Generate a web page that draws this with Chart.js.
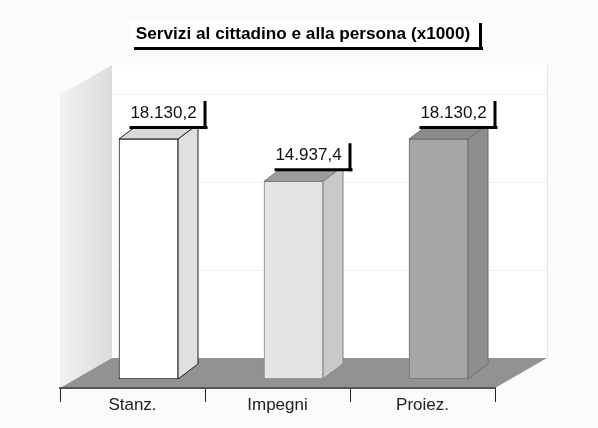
<!DOCTYPE html>
<html lang="it">
<head>
  <meta charset="UTF-8" />
  <title>Servizi al cittadino e alla persona</title>
  <script src="https://cdn.jsdelivr.net/npm/chart.js"></script>
  <style>
    html, body { margin: 0; padding: 0; background: #fbfbfb; }
    canvas { display: block; }
  </style>
</head>
<body>
  <canvas id="chart" width="598" height="428"></canvas>

  <script>
    const titleText = "Servizi al cittadino e alla persona (x1000)";
    const categories = ["Stanz.", "Impegni", "Proiez."];
    const values = [18130.2, 14937.4, 18130.2];
    const valueLabels = ["18.130,2", "14.937,4", "18.130,2"];
    const wallGrid = [6650, 13300, 19950];

    const frontColors = ["#ffffff", "#e4e4e4", "#a6a6a6"];
    const sideColors = ["#e0e0e0", "#c9c9c9", "#8e8e8e"];
    const topColors = ["#d9d9d9", "#9c9c9c", "#8a8a8a"];
    const edgeColors = ["#222222", "#808080", "#6e6e6e"];

    // bars sit forward of the axis line, on the floor
    const barShift = { x: 16, y: -9 };
    const barDepth = { x: 20, y: -15 };
    const wallDepth = { x: 52, y: -30 };

    function shadowBox(ctx, x, y, w, h) {
      ctx.fillStyle = "#ffffff";
      ctx.fillRect(x, y, w, h);
      ctx.fillStyle = "#000000";
      ctx.fillRect(x + 4, y + h - 1, w, 3);
      ctx.fillRect(x + w, y + 1, 3, h + 1);
    }

    const scene3d = {
      id: "scene3d",
      beforeDraw(chart) {
        const { ctx, chartArea: a, scales } = chart;
        const zero = scales.y.getPixelForValue(0);
        const wallTop = scales.y.getPixelForValue(22130) + wallDepth.y;
        const backX = a.left + wallDepth.x;
        const backBottom = zero + wallDepth.y;
        ctx.save();
        ctx.fillStyle = "#ffffff";
        ctx.fillRect(backX, wallTop, a.right + wallDepth.x - backX, backBottom - wallTop);
        // left wall
        const g = ctx.createLinearGradient(a.left, 0, backX, 0);
        g.addColorStop(0, "#f1f1f1");
        g.addColorStop(1, "#dcdcdc");
        ctx.fillStyle = g;
        ctx.beginPath();
        ctx.moveTo(a.left, zero);
        ctx.lineTo(backX, backBottom);
        ctx.lineTo(backX, wallTop);
        ctx.lineTo(a.left, wallTop - wallDepth.y);
        ctx.closePath();
        ctx.fill();
        // right edge and faint grid on the back wall
        ctx.strokeStyle = "#e6e6e6";
        ctx.beginPath();
        ctx.moveTo(a.right + wallDepth.x + 0.5, wallTop);
        ctx.lineTo(a.right + wallDepth.x + 0.5, backBottom);
        ctx.stroke();
        ctx.strokeStyle = "#f3f3f3";
        wallGrid.forEach(v => {
          const py = Math.round(scales.y.getPixelForValue(v) + wallDepth.y) + 0.5;
          ctx.beginPath();
          ctx.moveTo(backX, py);
          ctx.lineTo(a.right + wallDepth.x, py);
          ctx.stroke();
        });
        // floor
        ctx.fillStyle = "#929292";
        ctx.beginPath();
        ctx.moveTo(a.left, zero);
        ctx.lineTo(a.right, zero);
        ctx.lineTo(a.right + wallDepth.x, backBottom);
        ctx.lineTo(backX, backBottom);
        ctx.closePath();
        ctx.fill();
        // title box and title, the built-in title can't sit off the plot centre
        shadowBox(ctx, 130, 22, 349, 26);
        ctx.font = "bold 17.2px 'Liberation Sans'";
        ctx.textAlign = "center";
        ctx.textBaseline = "middle";
        ctx.fillStyle = "#000000";
        ctx.fillText(titleText, 303, 34);
        ctx.restore();
      },
      beforeDatasetsDraw(chart) {
        const { ctx } = chart;
        ctx.save();
        ctx.translate(barShift.x, barShift.y);
        chart.getDatasetMeta(0).data.forEach((bar, i) => {
          const r = bar.x + bar.width / 2;
          const l = bar.x - bar.width / 2;
          ctx.strokeStyle = edgeColors[i];
          ctx.lineWidth = 1;
          ctx.fillStyle = sideColors[i];
          ctx.beginPath();
          ctx.moveTo(r, bar.base);
          ctx.lineTo(r + barDepth.x, bar.base + barDepth.y);
          ctx.lineTo(r + barDepth.x, bar.y + barDepth.y);
          ctx.lineTo(r, bar.y);
          ctx.closePath();
          ctx.fill();
          ctx.stroke();
          ctx.fillStyle = topColors[i];
          ctx.beginPath();
          ctx.moveTo(l, bar.y);
          ctx.lineTo(l + barDepth.x, bar.y + barDepth.y);
          ctx.lineTo(r + barDepth.x, bar.y + barDepth.y);
          ctx.lineTo(r, bar.y);
          ctx.closePath();
          ctx.fill();
          ctx.stroke();
        });
      },
      afterDatasetsDraw(chart) {
        const { ctx } = chart;
        ctx.restore();
        ctx.save();
        ctx.font = "17px 'Liberation Sans'";
        ctx.textAlign = "center";
        ctx.textBaseline = "middle";
        chart.getDatasetMeta(0).data.forEach((bar, i) => {
          const cx = bar.x + barShift.x + 15;
          const cy = bar.y + barShift.y - 26;
          shadowBox(ctx, cx - 38, cy - 13, 78, 27);
          ctx.fillStyle = "#111111";
          ctx.fillText(valueLabels[i], cx, cy);
        });
        ctx.restore();
      }
    };

    new Chart(document.getElementById("chart"), {
      type: "bar",
      data: {
        labels: categories,
        datasets: [{
          data: values,
          backgroundColor: frontColors,
          borderColor: edgeColors,
          borderWidth: 1,
          borderSkipped: false,
          barThickness: 59
        }]
      },
      options: {
        responsive: false,
        animation: false,
        layout: { padding: { left: 60, right: 103, top: 63, bottom: 0 } },
        plugins: {
          legend: { display: false },
          tooltip: { enabled: false }
        },
        scales: {
          x: {
            afterFit(scale) { scale.height = 40; },
            border: { color: "#555555", width: 2 },
            grid: { drawOnChartArea: false, color: "#222222", tickLength: 14, tickWidth: 1 },
            ticks: { color: "#222222", padding: -7, font: { family: "'Liberation Sans'", size: 17 } }
          },
          y: {
            display: false,
            min: 0,
            max: 24550
          }
        }
      },
      plugins: [scene3d]
    });
  </script>
</body>
</html>
